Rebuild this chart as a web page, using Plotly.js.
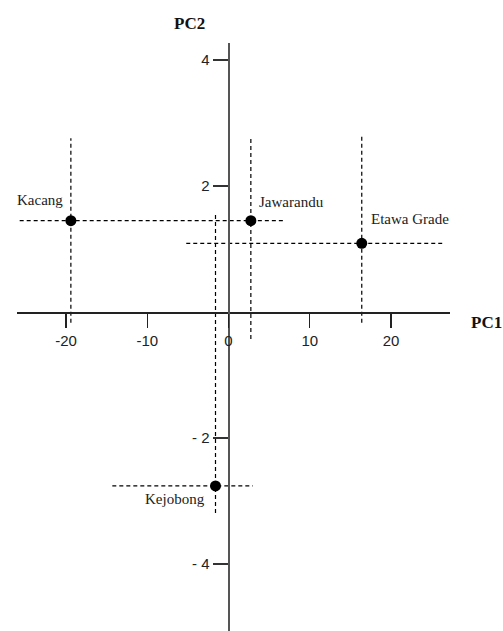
<!DOCTYPE html>
<html>
<head>
<meta charset="utf-8">
<script src="https://cdn.plot.ly/plotly-3.0.1.min.js"></script>
<style>html,body{margin:0;padding:0;background:#fff}#chart{width:503px;height:631px}</style>
</head>
<body>
<div id="chart"></div>
<script>
// ---- data ----
const breeds = ["Kacang", "Jawarandu", "Etawa Grade", "Kejobong"];
const pc1 = [-19.4, 2.75, 16.4, -1.6];
const pc2 = [1.45, 1.45, 1.09, -2.76];
// extent of each dashed cross-line (data units)
const hLineFrom = [-25.7, 2.75, -5.2, -14.3];
const hLineTo   = [2.75, 6.95, 26.3, 3.0];
const vLineFrom = [-0.17, -0.43, -0.17, -3.19];
const vLineTo   = [2.76, 2.78, 2.78, 1.58];
const xTickVals = [-20, -10, 0, 10, 20];
const xTickText = ["-20", "-10", "0", "10", "20"];
const yTickVals = [4, 2, -2, -4];
const yTickText = ["4", "2", "- 2", "- 4"];
const xTitle = "PC1";
const yTitle = "PC2";

// ---- chart ----
const xRange = [-26.03, 27.26];
const yRange = [-5.063, 4.27];
const xPos = (0 - yRange[0]) / (yRange[1] - yRange[0]);
const yPos = (0 - xRange[0]) / (xRange[1] - xRange[0]);

const dashStyle = {color: "#000", width: 1.2, dash: "4px,3px"};
const traces = [];
breeds.forEach((b, i) => {
  traces.push({x: [hLineFrom[i], hLineTo[i]], y: [pc2[i], pc2[i]], mode: "lines",
    line: dashStyle, hoverinfo: "skip", showlegend: false, cliponaxis: false});
  traces.push({x: [pc1[i], pc1[i]], y: [vLineFrom[i], vLineTo[i]], mode: "lines",
    line: dashStyle, hoverinfo: "skip", showlegend: false, cliponaxis: false});
});
traces.push({x: pc1, y: pc2, mode: "markers", text: breeds,
  marker: {color: "#000", size: 11}, showlegend: false, cliponaxis: false});

const labelAnchor = [
  {xanchor: "right", yanchor: "bottom", xshift: -6, yshift: 11},
  {xanchor: "left", yanchor: "bottom", xshift: 6, yshift: 9},
  {xanchor: "left", yanchor: "bottom", xshift: 7, yshift: 14},
  {xanchor: "right", yanchor: "top", xshift: -9, yshift: -3}
];
const annotations = breeds.map((b, i) => Object.assign({
  x: pc1[i], y: pc2[i], xref: "x", yref: "y", text: b, showarrow: false,
  font: {family: "Liberation Serif, Times New Roman, serif", size: 15, color: "#222"}
}, labelAnchor[i]));
annotations.push({xref: "paper", yref: "paper", x: 1.085, y: 0.5255, text: "<b>" + xTitle + "</b>",
  showarrow: false, xanchor: "center", yanchor: "middle",
  font: {family: "Liberation Serif, Times New Roman, serif", size: 17, color: "#111"}});
annotations.push({xref: "paper", yref: "paper", x: 0.3995, y: 1.034, text: "<b>" + yTitle + "</b>",
  showarrow: false, xanchor: "center", yanchor: "middle",
  font: {family: "Liberation Serif, Times New Roman, serif", size: 17, color: "#111"}});

const tickFont = {family: "Liberation Sans, Arial, sans-serif", size: 15, color: "#222"};
const layout = {
  width: 503, height: 631,
  margin: {l: 17, r: 53, t: 43, b: 0, pad: 0},
  paper_bgcolor: "#fff", plot_bgcolor: "#fff",
  showlegend: false,
  xaxis: {range: xRange, anchor: "free", position: xPos, side: "bottom",
    showline: true, linecolor: "#222", linewidth: 1.5, showgrid: false, zeroline: false,
    tickmode: "array", tickvals: xTickVals, ticktext: xTickText,
    ticks: "outside", ticklen: 14, tickwidth: 1.3, tickcolor: "#222", tickfont: tickFont},
  xaxis2: {range: xRange, overlaying: "x", anchor: "free", position: xPos, side: "top",
    showline: false, showgrid: false, zeroline: false,
    tickmode: "array", tickvals: xTickVals, showticklabels: false,
    ticks: "outside", ticklen: 14, tickwidth: 1.3, tickcolor: "#222"},
  yaxis: {range: yRange, anchor: "free", position: yPos, side: "left",
    showline: true, linecolor: "#555", linewidth: 2, showgrid: false, zeroline: false,
    tickmode: "array", tickvals: yTickVals, ticktext: yTickText,
    ticks: "outside", ticklen: 15, tickwidth: 1.3, tickcolor: "#333", tickfont: tickFont},
  yaxis2: {range: yRange, overlaying: "y", anchor: "free", position: yPos, side: "right",
    showline: false, showgrid: false, zeroline: false,
    tickmode: "array", tickvals: yTickVals, showticklabels: false,
    ticks: "outside", ticklen: 15, tickwidth: 1.3, tickcolor: "#333"},
  annotations: annotations
};

Plotly.newPlot("chart", traces, layout, {staticPlot: true, displayModeBar: false});
</script>
</body>
</html>
